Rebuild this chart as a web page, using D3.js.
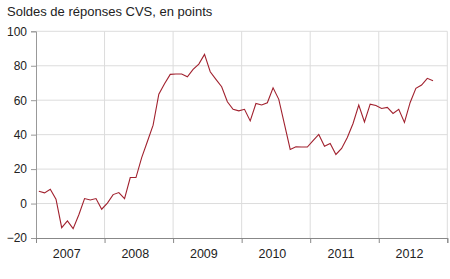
<!DOCTYPE html>
<html>
<head>
<meta charset="utf-8">
<script src="https://cdn.jsdelivr.net/npm/d3@7"></script>
<style>
  body { margin: 0; background: #fff; }
  text { font-family: "Liberation Sans", Arial, sans-serif; fill: #222; }
</style>
</head>
<body>
<div id="chart"></div>
<script>
const years = ["2007", "2008", "2009", "2010", "2011", "2012"];
const yTicks = [-20, 0, 20, 40, 60, 80, 100];
// monthly values, Jan 2007 .. Oct 2012
const v2007 = [7.1, 6.2, 8.3, 2.5, -14.0, -10.1, -14.6, -6.5, 2.9, 2.1, 2.9, -3.3];
const v2008 = [0.3, 5.2, 6.4, 2.9, 15.1, 15.1, 26.7, 36.0, 45.5, 63.5, 69.5, 75.0];
const v2009 = [75.2, 75.2, 73.6, 77.9, 81.0, 86.6, 76.5, 72.1, 67.8, 59.1, 54.7, 53.8];
const v2010 = [54.7, 48.0, 58.1, 57.2, 58.5, 67.2, 60.5, 46.0, 31.4, 33.0, 32.8, 32.8];
const v2011 = [36.5, 40.1, 33.3, 34.9, 28.5, 32.0, 38.4, 46.5, 57.2, 47.4, 57.7, 56.9];
const v2012 = [55.2, 55.8, 52.3, 54.7, 47.1, 58.7, 66.9, 68.8, 72.7, 71.3];
const values = [].concat(v2007, v2008, v2009, v2010, v2011, v2012);

const width = 450, height = 279;
const margin = {top: 31.3, right: 2.7, bottom: 41, left: 36};

const svg = d3.select("#chart").append("svg")
    .attr("width", width)
    .attr("height", height);

const x = d3.scaleLinear()
    .domain([0, years.length * 12])
    .range([margin.left, width - margin.right]);
const y = d3.scaleLinear()
    .domain([-20, 100])
    .range([height - margin.bottom, margin.top]);

svg.append("text")
    .attr("x", 7)
    .attr("y", 16)
    .style("font-size", "13px")
    .text("Soldes de réponses CVS, en points");

// grid
svg.append("g")
    .selectAll("line")
    .data(yTicks.slice(1))
    .enter()
    .append("line")
    .attr("x1", margin.left)
    .attr("x2", width - margin.right)
    .attr("y1", d => y(d))
    .attr("y2", d => y(d))
    .attr("stroke", "#dcdcdc");
svg.append("g")
    .selectAll("line")
    .data(d3.range(1, years.length + 1))
    .enter()
    .append("line")
    .attr("x1", d => x(d * 12))
    .attr("x2", d => x(d * 12))
    .attr("y1", y(100))
    .attr("y2", y(-20))
    .attr("stroke", "#dcdcdc");

// y axis
const yAxis = svg.append("g")
    .attr("transform", "translate(" + margin.left + ",0)")
    .call(d3.axisLeft(y).tickValues(yTicks).tickSize(5).tickPadding(4));
yAxis.selectAll("text").style("font-size", "12px").attr("fill", "#222");
yAxis.select(".domain").attr("stroke", "#999");
yAxis.selectAll(".tick line").attr("stroke", "#999");

// x axis
const xAxis = svg.append("g")
    .attr("transform", "translate(0," + y(-20) + ")")
    .call(d3.axisBottom(x).tickValues(d3.range(0, years.length * 12 + 1, 12))
        .tickSize(5).tickFormat(""));
xAxis.select(".domain").attr("stroke", "#888");
xAxis.selectAll(".tick line").attr("stroke", "#888");

svg.append("g")
    .selectAll("text")
    .data(years)
    .enter()
    .append("text")
    .attr("x", (d, i) => x(i * 12 + 6) - 3.5)
    .attr("y", y(-20) + 20)
    .attr("text-anchor", "middle")
    .style("font-size", "12.5px")
    .text(d => d);

const line = d3.line()
    .x((d, i) => x(i + 0.5))
    .y(d => y(d));

svg.append("path")
    .datum(values)
    .attr("d", line)
    .attr("fill", "none")
    .attr("stroke", "#a1212e")
    .attr("stroke-width", 1.1);
</script>
</body>
</html>
